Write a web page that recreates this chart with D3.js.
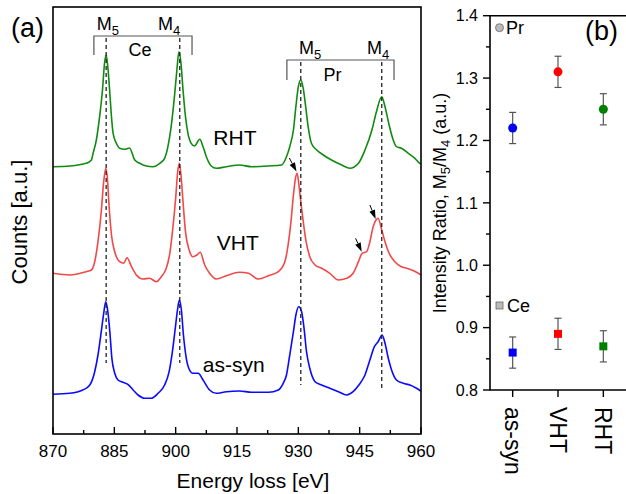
<!DOCTYPE html>
<html><head><meta charset="utf-8">
<script src="https://cdn.jsdelivr.net/npm/d3@7"></script>
<style>
html,body{margin:0;padding:0;background:#fff;}
svg{display:block;font-family:"Liberation Sans",Arial,sans-serif;}
</style></head>
<body><svg id="c" width="626" height="494"></svg>
<script>
// ---------- Panel (a) data: EELS spectra (energy eV, counts a.u. incl. vertical offset)
const energyTicks = [870, 885, 900, 915, 930, 945, 960];
const seriesNames = ["RHT", "VHT", "as-syn"];
const rht = [[870,267.3],[874.1,268],[878.1,270.7],[879.4,274],[879.8,280.7],[880.6,294],[881.4,317.3],[882.1,344],[882.6,370.7],[883.0,379],[883.4,367.3],[883.9,340.7],[884.3,317.3],[884.7,300.7],[885.5,290.7],[886.3,285.7],[887.5,284.7],[888.7,286],[890.0,274],[891.2,270.7],[892.8,268],[894.4,267.3],[896.1,270.7],[897.3,275.7],[898.1,287.3],[898.9,307.3],[899.7,337.3],[900.3,364],[900.8,382.3],[901.3,370.7],[901.8,344],[902.4,317.3],[903.0,300.7],[903.8,290.7],[904.6,288],[905.9,294.7],[906.7,287.3],[907.5,277.3],[908.7,268],[909.9,265.7],[912.4,267.3],[915.6,269],[918.6,267.3],[922.7,268],[925.9,269],[927.1,277.3],[927.9,287.3],[928.8,304],[929.4,327.3],[930.0,347.3],[930.6,354],[931.2,345.7],[931.8,327.3],[932.4,307.3],[933.2,290.7],[934.5,284],[936.1,279],[938.1,274],[940.6,269],[942.6,265.7],[944.7,270.7],[946.3,284],[948.0,304],[949.1,322.3],[950.4,337.3],[951.2,327.3],[952.2,309],[953.2,294],[954.0,287.3],[955.2,285.7],[956.9,280.7],[958.5,275.7],[959.7,270.7],[960,270]];
const vht = [[870,160.7],[874.1,159],[878.1,162.3],[879.4,164],[880.2,172.3],[881.0,192.3],[881.8,222.3],[882.4,252.3],[882.9,265.7],[883.3,255.7],[883.7,229],[884.3,199],[885.1,182.3],[886.3,172.3],[887.3,170.7],[888.1,176.3],[889.2,167.3],[890.4,159],[892.0,155],[893.6,155.7],[895.3,152.3],[896.5,157.3],[897.7,165.7],[898.5,179],[899.3,205.7],[900.0,235.7],[900.5,262.3],[900.9,270.7],[901.3,259],[901.8,232.3],[902.4,202.3],[903.3,184],[904.2,177.3],[905.2,179],[906.0,181.7],[907.1,169],[908.3,160.7],[909.9,155],[912.4,158.3],[915.6,161.7],[917.8,160.7],[920.2,155],[922.7,158.3],[925.1,162.3],[926.7,172.3],[927.5,189],[928.2,212.3],[928.8,239],[929.3,255.7],[929.7,260.7],[930.1,250.7],[930.6,232.3],[931.2,212.3],[931.9,192.3],[932.8,177.3],[934.1,169],[935.7,165.7],[937.7,160.7],[939.8,154],[941.8,155.7],[943.4,160.7],[944.7,172.3],[945.6,180.7],[946.7,182.3],[947.5,192.3],[948.3,207.3],[949.0,214],[949.5,215.7],[950.4,204],[951.2,192.3],[952.2,180.7],[953.6,172.3],[955.2,167.3],[956.5,165.7],[957.7,164],[958.9,161.7],[960,159]];
const asSyn = [[870,39.7],[874.1,40.7],[877.3,44],[879.0,49],[880.2,62.3],[881.0,79],[881.8,102.3],[882.4,120.7],[882.9,132.3],[883.3,125.7],[883.9,102.3],[884.4,75.7],[885.1,60.7],[885.9,54],[887.1,51.7],[888.3,49.7],[889.6,44],[890.8,39],[892.4,35.7],[894.0,35.7],[895.7,40.7],[897.3,49],[898.4,62.3],[899.2,82.3],[899.9,105.7],[900.5,125.7],[900.9,134],[901.4,124],[901.9,99],[902.6,75.7],[903.4,64],[904.2,60.7],[905.5,60.7],[906.7,54],[908.3,44],[909.9,40.7],[912.4,42.3],[915.6,43],[918.6,41.7],[922.7,41.7],[925.1,44],[926.3,50.7],[927.1,59],[927.9,79],[928.8,102.3],[929.4,119],[930.1,127.3],[930.8,122.3],[931.4,105.7],[932.0,82.3],[932.8,65.7],[934.1,52.3],[935.7,49],[937.7,45.7],[939.8,42.3],[941.8,39],[943.4,42.3],[944.8,49],[946.3,59],[947.5,74],[948.6,87.3],[949.5,92.3],[950.5,99],[951.2,90.7],[952.0,75.7],[952.8,64],[954.0,54],[955.7,50.7],[957.3,49],[958.9,45.7],[959.9,43]];
const seriesLabelPos = [[914.5,289],[915.2,184],[914.2,62]];   // label anchor (energy, counts)
// edge markers: [label, energy, line top (counts), line bottom (counts)]
const edgeLines = [["Ce M5",883.0,396,71],["Ce M4",901.0,396,71],["Pr M5",930.6,372,49],["Pr M4",950.4,372,46]];
const edgeLabels = [["5",883.4,404],["4",898.4,404],["5",932.9,380],["4",949.5,380]];
const brackets = [["Ce",880.0,904.0,398,379],["Pr",927.2,953.4,374,354]];
const arrows = [[927.8,276,929.55,262.5],[947.5,229,948.9,215],[944.0,195.7,945.5,182.3]];

// ---------- Panel (b) data
const categories = ["as-syn", "VHT", "RHT"];
const prRatio = [1.22, 1.31, 1.25];
const prErr = [0.025, 0.025, 0.025];
const ceRatio = [0.86, 0.89, 0.87];
const ceErr = [0.025, 0.025, 0.025];
const ratioTicks = [0.8, 0.9, 1.0, 1.1, 1.2, 1.3, 1.4];
const pointColors = ["#0000ff", "#ff0000", "#008000"];
const lineColors = {"RHT":"#118a11","VHT":"#f24848","as-syn":"#0a0aff"};

const svg = d3.select("#c");
const F = "'Liberation Sans',Arial,sans-serif";

// ===== Panel (a)
const ax = {l:53, r:421, t:7, b:434};
const x = d3.scaleLinear().domain([870, 960]).range([ax.l, ax.r]);
const y = d3.scaleLinear().domain([0, 427]).range([ax.b, ax.t]);
const ga = svg.append("g");

const line = d3.line().x(d=>x(d[0])).y(d=>y(d[1])).curve(d3.curveMonotoneX);
[[rht,"RHT"],[vht,"VHT"],[asSyn,"as-syn"]].forEach(([data,name])=>{
  ga.append("path").attr("d", line(data)).attr("fill","none")
    .attr("stroke", lineColors[name]).attr("stroke-width",1.6).attr("stroke-linejoin","round");
});

// dashed edge lines
edgeLines.forEach(d=>{
  ga.append("line").attr("x1",x(d[1])).attr("x2",x(d[1])).attr("y1",y(d[2])).attr("y2",y(d[3]))
    .attr("stroke","#222").attr("stroke-width",1.3).attr("stroke-dasharray","4,3");
});
// brackets
brackets.forEach(b=>{
  ga.append("path").attr("d",`M${x(b[1])},${y(b[4])}V${y(b[3])}H${x(b[2])}V${y(b[4])}`)
    .attr("fill","none").attr("stroke","#555").attr("stroke-width",1.2);
  ga.append("text").attr("x",(x(b[1])+x(b[2]))/2 + (b[0]==="Ce"?-3:-8)).attr("y",y(b[4])+1)
    .attr("text-anchor","middle").attr("font-size",18).attr("font-family",F).text(b[0]);
});
// M labels
edgeLabels.forEach(d=>{
  const t = ga.append("text").attr("x",x(d[1])).attr("y",y(d[2])).attr("text-anchor","middle")
    .attr("font-size",18).attr("font-family",F);
  t.append("tspan").text("M");
  t.append("tspan").attr("font-size",13).attr("dy",5).text(d[0]);
});
// arrows
arrows.forEach(a=>{
  const x1=x(a[0]), y1=y(a[1]), x2=x(a[2]), y2=y(a[3]);
  const ang=Math.atan2(y2-y1,x2-x1), L=9, W=3;
  const bx=x2-L*Math.cos(ang), by=y2-L*Math.sin(ang);
  ga.append("line").attr("x1",x1).attr("y1",y1).attr("x2",bx).attr("y2",by).attr("stroke","#000").attr("stroke-width",1);
  ga.append("path").attr("d",`M${x2},${y2}L${bx-W*Math.sin(ang)},${by+W*Math.cos(ang)}L${bx+W*Math.sin(ang)},${by-W*Math.cos(ang)}Z`).attr("fill","#000");
});
// series labels
seriesNames.forEach((n,i)=>{
  ga.append("text").attr("x",x(seriesLabelPos[i][0])).attr("y",y(seriesLabelPos[i][1]))
    .attr("text-anchor","middle").attr("font-size",21).attr("font-family",F).text(n);
});
// frame
ga.append("rect").attr("x",ax.l).attr("y",ax.t).attr("width",ax.r-ax.l).attr("height",ax.b-ax.t)
  .attr("fill","none").attr("stroke","#000").attr("stroke-width",1.6);
// x axis ticks (inward)
const minorE = d3.range(877.5, 960, 15);
energyTicks.forEach(t=>{
  ga.append("line").attr("x1",x(t)).attr("x2",x(t)).attr("y1",ax.b).attr("y2",ax.b-7).attr("stroke","#000").attr("stroke-width",1.4);
  ga.append("text").attr("x",x(t)).attr("y",457).attr("text-anchor","middle").attr("font-size",17).attr("font-family",F).text(t);
});
minorE.forEach(t=>{
  ga.append("line").attr("x1",x(t)).attr("x2",x(t)).attr("y1",ax.b).attr("y2",ax.b-4).attr("stroke","#000").attr("stroke-width",1.4);
});
ga.append("text").attr("x",253).attr("y",488).attr("text-anchor","middle").attr("font-size",21).attr("font-family",F).text("Energy loss [eV]");
ga.append("text").attr("transform","translate(27,222) rotate(-90)").attr("text-anchor","middle").attr("font-size",22).attr("font-family",F).text("Counts [a.u.]");
ga.append("text").attr("x",11).attr("y",37).attr("font-size",27).attr("font-family",F).text("(a)");

// ===== Panel (b)
const bx0 = 490, bx1 = 626, bt = 15.7, bb = 390;
const xb = d3.scaleBand().domain(categories).range([bx0, bx1]);
const yb = d3.scaleLinear().domain([0.8, 1.4]).range([bb, bt]);
const gb = svg.append("g");
const cx = c => xb(c) + xb.bandwidth()/2;

gb.append("path").attr("d",`M${bx1+2},${bt}H${bx0}V${bb}H${bx1+2}`).attr("fill","none").attr("stroke","#000").attr("stroke-width",1.6);
ratioTicks.forEach(t=>{
  gb.append("line").attr("x1",bx0).attr("x2",bx0-7).attr("y1",yb(t)).attr("y2",yb(t)).attr("stroke","#000").attr("stroke-width",1.4);
  gb.append("text").attr("x",478).attr("y",yb(t)).attr("dy","0.36em").attr("text-anchor","end").attr("font-size",16).attr("font-family",F).text(t.toFixed(1));
});
d3.range(0.85, 1.4, 0.1).forEach(t=>{
  gb.append("line").attr("x1",bx0).attr("x2",bx0-4).attr("y1",yb(t)).attr("y2",yb(t)).attr("stroke","#000").attr("stroke-width",1.4);
});
categories.forEach(c=>{
  gb.append("line").attr("x1",cx(c)).attr("x2",cx(c)).attr("y1",bb).attr("y2",bb+7).attr("stroke","#000").attr("stroke-width",1.4);
  gb.append("text").attr("transform",`translate(${cx(c)},${bb+17}) rotate(90)`).attr("dy","0.35em")
    .attr("font-size",23).attr("font-family",F).text(c);
});
// error bars + markers
function errBar(cxv, v, e){
  gb.append("line").attr("x1",cxv).attr("x2",cxv).attr("y1",yb(v-e)).attr("y2",yb(v+e)).attr("stroke","#555").attr("stroke-width",1.2);
  [v-e, v+e].forEach(w=>gb.append("line").attr("x1",cxv-3.5).attr("x2",cxv+3.5).attr("y1",yb(w)).attr("y2",yb(w)).attr("stroke","#555").attr("stroke-width",1.2));
}
categories.forEach((c,i)=>{
  errBar(cx(c), prRatio[i], prErr[i]);
  gb.append("circle").attr("cx",cx(c)).attr("cy",yb(prRatio[i])).attr("r",4.5).attr("fill",pointColors[i]);
  errBar(cx(c), ceRatio[i], ceErr[i]);
  gb.append("rect").attr("x",cx(c)-4).attr("y",yb(ceRatio[i])-4).attr("width",8).attr("height",8).attr("fill",pointColors[i]);
});
// legends
gb.append("circle").attr("cx",499.5).attr("cy",27.7).attr("r",4).attr("fill","#bbb").attr("stroke","#666").attr("stroke-width",0.8);
gb.append("text").attr("x",506).attr("y",34).attr("font-size",18).attr("font-family",F).text("Pr");
gb.append("rect").attr("x",496).attr("y",302).attr("width",7).attr("height",7).attr("fill","#bbb").attr("stroke","#666").attr("stroke-width",0.8);
gb.append("text").attr("x",507).attr("y",312).attr("font-size",18).attr("font-family",F).text("Ce");
gb.append("text").attr("x",585).attr("y",40).attr("font-size",27).attr("font-family",F).text("(b)");
const yt = gb.append("text").attr("transform","translate(446,203) rotate(-90)").attr("text-anchor","middle").attr("font-size",18).attr("font-family",F);
yt.append("tspan").text("Intensity Ratio, M");
yt.append("tspan").attr("font-size",13).attr("dy",4).text("5");
yt.append("tspan").attr("dy",-4).text("/M");
yt.append("tspan").attr("font-size",13).attr("dy",4).text("4");
yt.append("tspan").attr("dy",-4).text(" (a.u.)");
</script></body></html>
